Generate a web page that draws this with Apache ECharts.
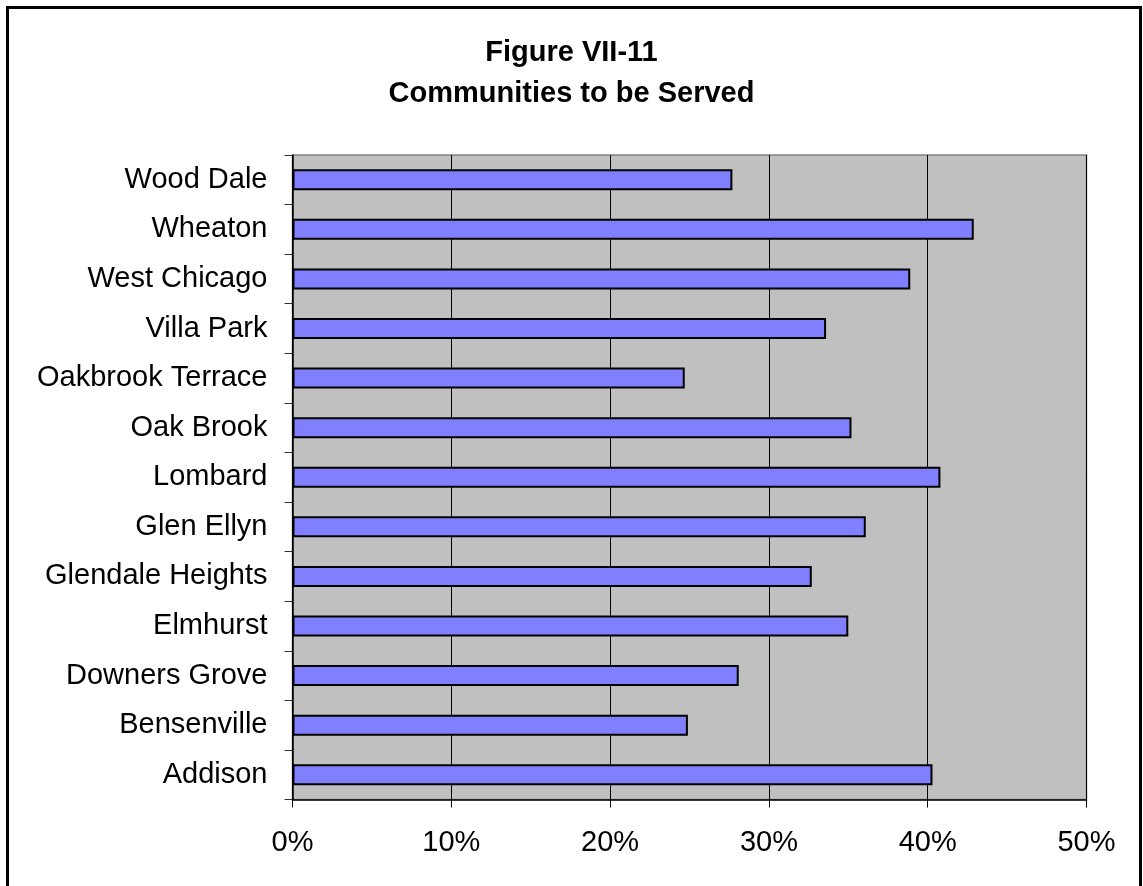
<!DOCTYPE html>
<html>
<head>
<meta charset="utf-8">
<script src="https://cdn.jsdelivr.net/npm/echarts@6/dist/echarts.min.js"></script>
<style>
html,body{margin:0;padding:0;background:#fff;}
#chart{width:1143px;height:886px;}
</style>
</head>
<body>
<div id="chart"></div>
<script>
// Categories listed bottom-to-top
const categories = ["Addison","Bensenville","Downers Grove","Elmhurst","Glendale Heights","Glen Ellyn","Lombard","Oak Brook","Oakbrook Terrace","Villa Park","West Chicago","Wheaton","Wood Dale"];
const shareServed = [40.3, 24.9, 28.1, 35.0, 32.7, 36.1, 40.8, 35.2, 24.7, 33.6, 38.9, 42.9, 27.7];
const xTicks = [0, 10, 20, 30, 40, 50];
const titleText = "Figure VII-11\nCommunities to be Served";

const chart = echarts.init(document.getElementById('chart'), null, {renderer:'canvas'});
const font = "'Liberation Sans', Arial, sans-serif";
chart.setOption({
  animation:false,
  backgroundColor:'#fff',
  textStyle:{fontFamily:font},
  title:{
    text:titleText,
    left:'center',
    top:27,
    textStyle:{fontFamily:font,fontSize:29,fontWeight:'bold',color:'#000',lineHeight:41}
  },
  graphic:[
    {type:'polyline',shape:{points:[[7.5,886],[7.5,7.5],[1140.5,7.5],[1140.5,886]]},style:{stroke:'#000',lineWidth:3,fill:null},z:100}
  ],
  grid:{left:292.5,right:56.5,top:155,bottom:86.5,show:true,backgroundColor:'#C0C0C0',borderColor:'#808080',borderWidth:1.5},
  xAxis:{
    type:'value',min:xTicks[0],max:xTicks[xTicks.length-1],interval:10,
    axisLine:{show:true,lineStyle:{color:'#000',width:1.5}},
    axisTick:{show:true,length:8,lineStyle:{color:'#000',width:1}},
    axisLabel:{formatter:'{value}%',fontSize:29,color:'#000',margin:29,fontFamily:font},
    splitLine:{show:true,lineStyle:{color:'#000',width:1}}
  },
  yAxis:{
    type:'category',data:categories,
    axisLine:{show:true,lineStyle:{color:'#000',width:1.5}},
    axisTick:{show:true,length:8,lineStyle:{color:'#333',width:1}},
    axisLabel:{fontSize:29,color:'#000',margin:25,fontFamily:font},
    splitLine:{show:false}
  },
  series:[{
    type:'bar',data:shareServed,barWidth:21,
    itemStyle:{color:'#8080FF',borderColor:'#000',borderWidth:2}
  }]
});
</script>
</body>
</html>
